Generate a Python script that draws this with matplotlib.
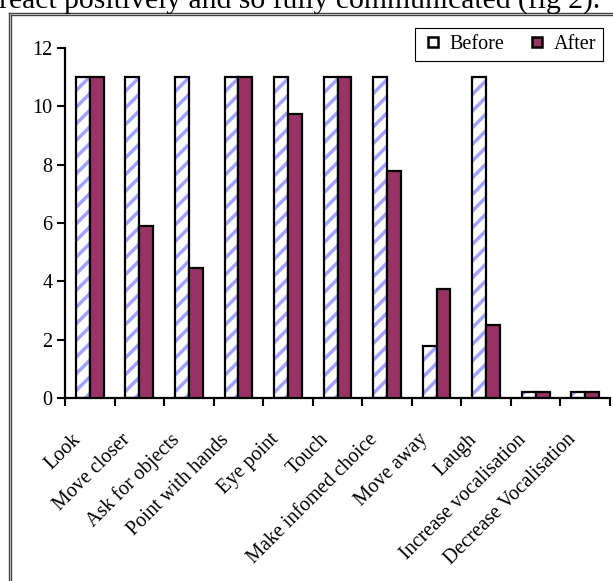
import matplotlib.pyplot as plt
from matplotlib.lines import Line2D
import matplotlib.transforms as mtransforms
import numpy as np

behaviours = ['Look', 'Move closer', 'Ask for objects', 'Point with hands',
              'Eye point', 'Touch', 'Make infomed choice', 'Move away',
              'Laugh', 'Increase vocalisation', 'Decrease Vocalisation']
before = [11, 11, 11, 11, 11, 11, 11, 1.8, 11, 0.2, 0.2]
after = [11, 5.9, 4.45, 11, 9.75, 11, 7.8, 3.75, 2.5, 0.2, 0.2]

plt.rcParams['font.family'] = ['Liberation Serif', 'DejaVu Serif']
plt.rcParams['hatch.linewidth'] = 2.5

stripe = '#a3a3ff'
plum = '#993366'

fig = plt.figure(figsize=(6.13, 5.81), dpi=100)
ax = fig.add_axes([65 / 613, 1 - 398 / 581, 545 / 613, 350 / 581])

x = np.arange(len(behaviours))
w = 0.28

# striped "before" bars: hatch layer first, black outline on top
ax.bar(x - w / 2, before, w, color='white', edgecolor=stripe, hatch='//',
       linewidth=0, zorder=2)
ax.bar(x - w / 2, before, w, fill=False, edgecolor='black', linewidth=1.6,
       zorder=3)
ax.bar(x + w / 2, after, w, color=plum, edgecolor='black', linewidth=1.6,
       zorder=3)

ax.set_xlim(-0.5, len(behaviours) - 0.5)
ax.set_ylim(0, 12)
ax.set_yticks(range(0, 13, 2))
ax.tick_params(axis='y', direction='out', length=6, width=1.5, labelsize=14.5,
               pad=3)

ax.set_xticks(x)
ax.set_xticklabels(behaviours, rotation=45, ha='right', va='center',
                   rotation_mode='anchor', fontsize=14.5)
ax.tick_params(axis='x', which='major', length=0, pad=28)
ax.set_xticks(np.arange(-0.5, len(behaviours)), minor=True)
ax.tick_params(axis='x', which='minor', direction='out', length=6, width=1.5)

# nudge the slanted category names a little to the left
shift = mtransforms.ScaledTranslation(-12 / 100, 0, fig.dpi_scale_trans)
for lab in ax.get_xticklabels():
    lab.set_transform(lab.get_transform() + shift)

for side in ['top', 'right']:
    ax.spines[side].set_visible(False)
for side in ['left', 'bottom']:
    ax.spines[side].set_linewidth(1.6)

handles = [Line2D([], [], linestyle='none', marker='s', markersize=6.5,
                  markerfacecolor='white', markeredgecolor='black',
                  markeredgewidth=1.8),
           Line2D([], [], linestyle='none', marker='s', markersize=6.5,
                  markerfacecolor=plum, markeredgecolor='black',
                  markeredgewidth=1.8)]
leg = fig.legend(handles, ['Before', 'After'], loc='upper left',
                 bbox_to_anchor=(415 / 613, 1 - 28 / 581), ncol=2,
                 borderaxespad=0, fancybox=False, framealpha=1,
                 edgecolor='black', fontsize=14.5, handlelength=1.1,
                 handletextpad=0.25, columnspacing=1.1, borderpad=0.35)
leg.get_frame().set_linewidth(0.8)

# double frame around the chart area
for off in (8.5, 11):
    fig.add_artist(Line2D([off / 613, off / 613], [0, 1 - (off + 4) / 581],
                          color='#444444', linewidth=1.0))
    fig.add_artist(Line2D([off / 613, 1], [1 - (off + 4) / 581] * 2,
                          color='#444444', linewidth=1.0))

fig.text(-0.002, 1 - 8.5 / 581, 'react positively and so fully communicated (fig 2).',
         fontsize=21.3, ha='left', va='baseline')

fig.savefig('out.png', dpi=100)
